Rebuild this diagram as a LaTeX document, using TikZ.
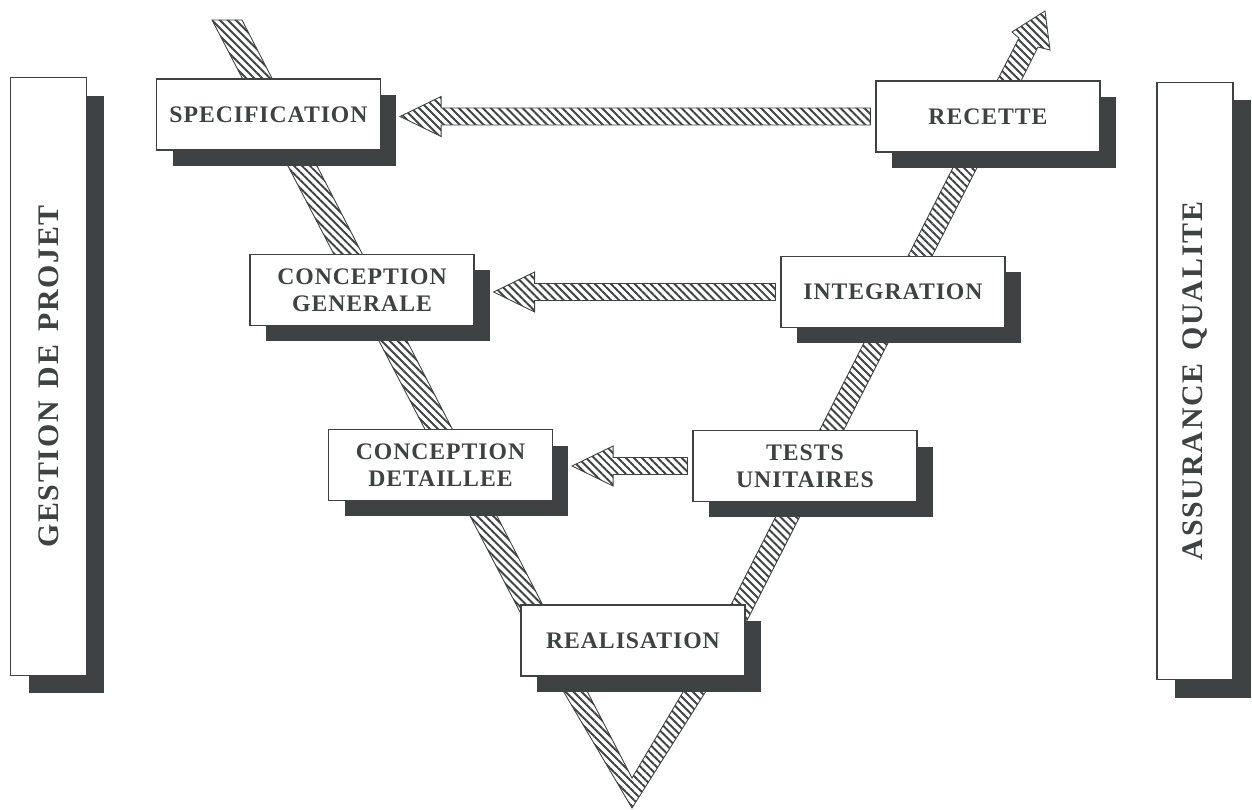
\documentclass[tikz,border=0pt]{standalone}
\usepackage{fontspec}
\setmainfont{Liberation Serif}
\newfontfamily\etapefont[LetterSpace=4]{Liberation Serif}
\newfontfamily\cotefont[LetterSpace=6,WordSpace=1.4]{Liberation Serif}
\usetikzlibrary{patterns.meta,shadows,calc}
\definecolor{encre}{HTML}{3F4242}
\begin{document}
\begin{tikzpicture}[x=0.02cm,y=-0.02cm,
    etape/.style={draw=encre,line width=0.7pt,fill=white,minimum width=4.48cm,minimum height=1.42cm,
      align=center,text=encre,font=\etapefont\fontsize{13.5}{15.6}\selectfont\bfseries,
      drop shadow={shadow xshift=0.32cm,shadow yshift=-0.32cm,fill=encre,opacity=1}},
    cote/.style={draw=encre,line width=0.7pt,fill=white,minimum width=1.52cm,minimum height=11.95cm,
      text=encre,font=\cotefont\fontsize{17}{20}\selectfont\bfseries,
      drop shadow={shadow xshift=0.36cm,shadow yshift=-0.36cm,fill=encre,opacity=1}},
    hachure/.style={draw=encre,line width=0.5pt,pattern={Lines[angle=-45,distance=3.2pt,line width=1.1pt]},pattern color=encre}]
  \useasboundingbox (0,0) rectangle (1252,810);
  \filldraw[hachure] (212,20) -- (545,660) -- (632,808) -- (732,650) -- (1023,77) -- (1038,47)
    -- (1050,50) -- (1045,11) -- (1012,32) -- (1019,38) -- (999,77) -- (708,650) -- (632,778)
    -- (571,660) -- (242,20) -- cycle;
  \node[cote] (gestion) at (48.5,376.5) {\rotatebox{90}{GESTION DE PROJET}};
  \node[cote] (assurance) at (1195,381) {\rotatebox{90}{ASSURANCE QUALITE}};
  \node[etape] (spec) at (268.5,114.5) {SPECIFICATION};
  \node[etape] (recette) at (988,116.5) {RECETTE};
  \node[etape] (cg) at (362,290) {CONCEPTION\\GENERALE};
  \node[etape] (integ) at (893,292) {INTEGRATION};
  \node[etape] (cd) at (440.5,465) {CONCEPTION\\DETAILLEE};
  \node[etape] (tu) at (805,466) {TESTS\\UNITAIRES};
  \node[etape] (real) at (633,640.5) {REALISATION};
  \foreach \g/\d in {spec/recette,cg/integ,cd/tu}{
    \coordinate (depart) at ($(\d.west)+(-5,0)$);
    \coordinate (pointe) at ($(\g.east |- \d.west)+(19,0)$);
    \filldraw[hachure] (pointe) -- ++(41,-20) -- ++(0,11.5) -- ($(depart)+(0,-8.5)$) -- ++(0,17)
      -- ($(pointe)+(41,8.5)$) -- ++(0,11.5) -- cycle;
  }
\end{tikzpicture}
\end{document}
